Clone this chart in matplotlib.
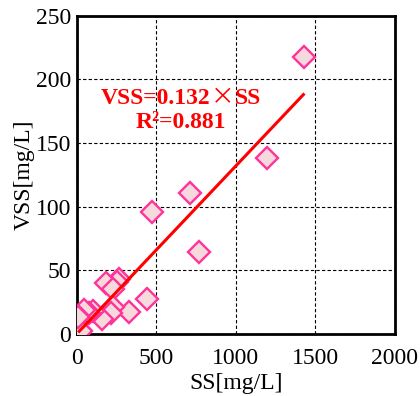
import matplotlib
matplotlib.use('Agg')
import matplotlib.pyplot as plt
from matplotlib.offsetbox import TextArea, HPacker, VPacker, AnnotationBbox
import numpy as np

# SS vs VSS measurements [mg/L]
ss = [1430, 1195, 710, 770, 470, 440, 325, 265, 255, 185, 228, 229, 215,
      155, 103, 78, 45, 8, 19, 25, 5]
vss = [218, 138, 111, 64, 96, 27, 17, 43, 41, 40, 35, 21, 16,
       12, 18, 16, 19, 14, 3, 2, 13]

slope = 0.132
r2 = 0.881
fit_x = [15, 1425]

plt.rcParams['font.family'] = ['Liberation Serif', 'DejaVu Serif']

fig = plt.figure(figsize=(4.2, 3.96), dpi=100)
ax = fig.add_axes([0.183, 0.157, 0.757, 0.803])

ax.plot(ss, vss, linestyle='none', marker='D', markersize=10.8,
        markerfacecolor='#f5d9dc', markeredgecolor='#ff3399',
        markeredgewidth=1.7, zorder=3)
ax.plot(fit_x, np.multiply(fit_x, slope), color='#ff0000', linewidth=2.2, zorder=4)

# equation text, the x sign is the wide japanese one
red = dict(color='#ff0000', fontsize=17, fontweight='bold')
cjk = dict(color='#ff0000', fontsize=17, family='Noto Sans CJK JP')
line1 = HPacker(children=[TextArea('VSS=%.3f' % slope, textprops=red),
                          TextArea('\u00d7', textprops=cjk),
                          TextArea('SS', textprops=red)],
                align='center', pad=0, sep=0)
line2 = TextArea('R\u00b2=%.3f' % r2, textprops=red)
box = VPacker(children=[line1, line2], align='center', pad=0, sep=2)
ab = AnnotationBbox(box, (654, 176), xycoords='data', frameon=False,
                    box_alignment=(0.5, 0.5), zorder=5)
ax.add_artist(ab)

ax.set_xlim(0, 2000)
ax.set_ylim(0, 250)
ax.set_xticks([0, 500, 1000, 1500, 2000])
ax.set_yticks([0, 50, 100, 150, 200, 250])
ax.tick_params(length=0, labelsize=17)
ax.tick_params(axis='x', pad=10)
ax.tick_params(axis='y', pad=4)
ax.grid(True, linestyle=(0, (3, 2)), color='black', linewidth=0.8)
for sp in ax.spines.values():
    sp.set_linewidth(2)

ax.set_xlabel('SS[mg/L]', fontsize=17, labelpad=3)
ax.set_ylabel('VSS[mg/L]', fontsize=17, labelpad=1)

fig.savefig('out.png', dpi=100)
